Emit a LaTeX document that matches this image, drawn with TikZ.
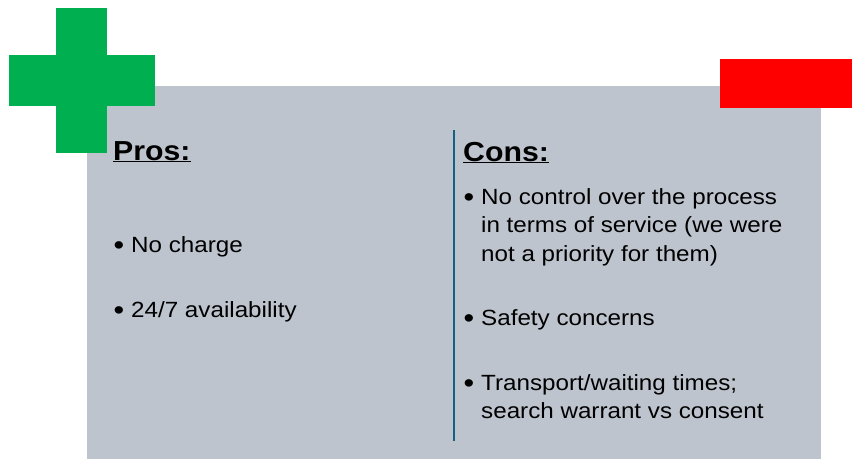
\documentclass[tikz,border=0pt]{standalone}
\usepackage{fontspec}
\setmainfont[FakeStretch=1.1]{Liberation Sans}
\definecolor{panelgray}{RGB}{189,196,206}
\definecolor{plusgreen}{RGB}{0,176,80}
\definecolor{minusred}{RGB}{255,0,0}
\definecolor{divider}{RGB}{21,96,130}
\tikzset{
	head/.style={anchor=base west,inner sep=0pt,font=\fontsize{27.5}{32}\selectfont\bfseries},
	line/.style={anchor=base west,inner sep=0pt,font=\fontsize{22}{28}\selectfont}
}
\newcommand{\bul}{\makebox[17.5pt][l]{\raisebox{-2.8pt}{\scalebox{1.25}{\textbullet}}}}

\begin{document}
\begin{tikzpicture}[x=1pt,y=-1pt]
	\useasboundingbox (0,0) rectangle (852,459);
	% panel and signs
	\fill[panelgray] (87,86) rectangle (821,459);
	\fill[plusgreen] (56,8) rectangle (107,153);
	\fill[plusgreen] (9,55) rectangle (155,106);
	\fill[minusred] (720,59) rectangle (852,108);
	\draw[divider,line width=2pt] (454,130) -- (454,441);
	% pros
	\node[head] (pros) at (113,160) {\underline{Pros:}};
	\node[line] (pro1) at (113.5,252) {\bul No charge};
	\node[line] (pro2) at (113.5,317) {\bul 24/7 availability};
	% cons
	\node[head] (cons) at (463,161) {\underline{Cons:}};
	\node[line] (con1) at (463.5,204) {\bul No control over the process};
	\node[line] (con1b) at (481,232.5) {in terms of service (we were};
	\node[line] (con1c) at (481,261) {not a priority for them)};
	\node[line] (con2) at (463.5,325) {\bul Safety concerns};
	\node[line] (con3) at (463.5,390) {\bul Transport/waiting times;};
	\node[line] (con3b) at (481,418) {search warrant vs consent};
\end{tikzpicture}
\end{document}
